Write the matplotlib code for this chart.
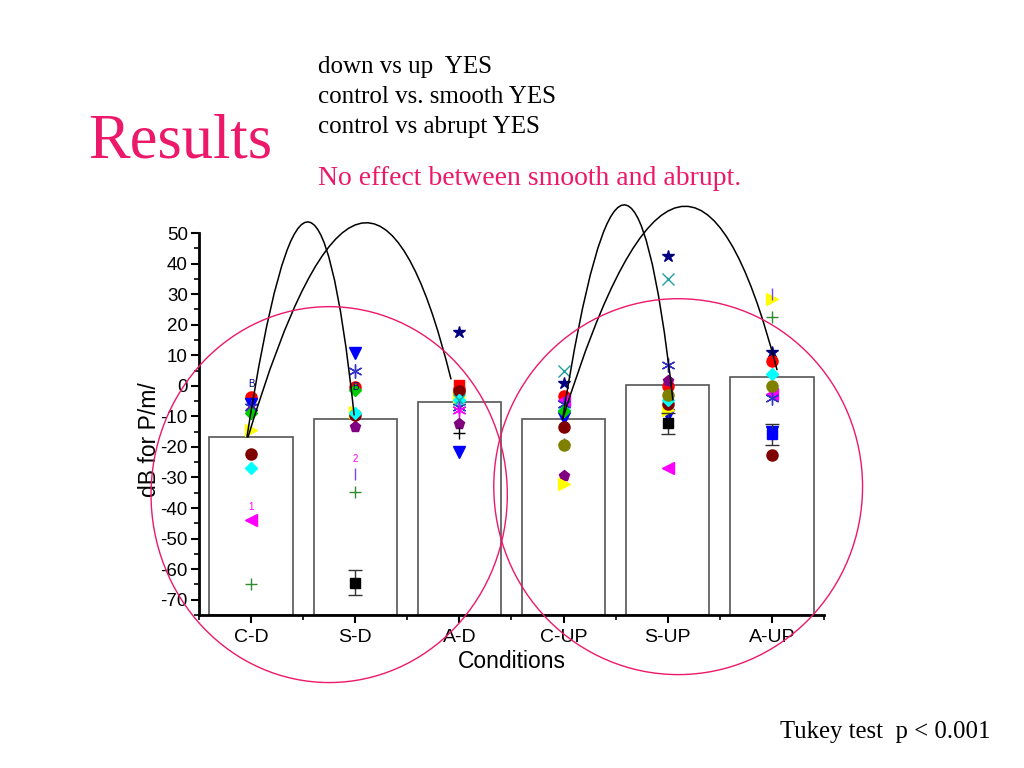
import numpy as np
import matplotlib
matplotlib.use('Agg')
import matplotlib.pyplot as plt
from matplotlib.patches import Ellipse, PathPatch
from matplotlib.path import Path

plt.rcParams['font.family'] = ['Liberation Sans', 'DejaVu Sans']
plt.rcParams['axes.unicode_minus'] = False

# conditions and bar means
conditions = ['C-D', 'S-D', 'A-D', 'C-UP', 'S-UP', 'A-UP']
bar_means = [-16.9, -11.0, -5.4, -11.0, 0.2, 2.8]

nan = np.nan
# individual points, one list per marker series (C-D, S-D, A-D, C-UP, S-UP, A-UP)
navy_star = [nan, nan, 17.5, 0.8, 42.5, 11.0]
red_circle = [-3.7, -0.4, -1.0, -3.4, 0.0, 8.0]
red_square = [nan, nan, 0.2, nan, nan, nan]
blue_tri = [-5.8, 10.6, -21.6, -10.5, -9.5, -15.0]
purple_pent = [-8.3, -13.5, -12.4, -29.4, 1.5, -0.5]
yellow_tri = [-14.5, -8.5, -3.5, -32.0, -8.0, 28.3]
darkred_circle = [-22.2, -9.5, -1.8, -13.4, -6.0, -22.5]
cyan_diamond = [-27.0, -8.8, -4.5, -8.0, -4.5, 3.8]
magenta_tri = [-44.0, nan, nan, -4.7, -26.8, -2.8]
green_plus = [-65.0, -34.6, nan, -19.0, nan, 22.5]
blue_aster = [-7.0, 5.0, -7.0, -6.0, 6.7, -4.0]
teal_x = [nan, nan, -4.5, 4.8, 35.0, nan]
magenta_aster = [nan, nan, -8.0, nan, nan, nan]
black_plus = [nan, nan, -15.4, nan, nan, nan]
olive_circle = [nan, nan, nan, -19.3, -3.0, 0.0]
green_diamond = [-9.0, -1.5, nan, -8.2, nan, nan]
violet_bar = [nan, -29.0, nan, nan, nan, 30.0]

# squares with error bars
black_sq = [nan, -64.5, nan, nan, -12.3, nan]
black_sq_err = [0, 4.1, 0, 0, 3.4, 0]
blue_sq = [nan, nan, nan, nan, nan, -15.9]
blue_sq_err = [0, 0, 0, 0, 0, 3.5]

# text markers
text_labels = ['1', '2', 'B', 'B']
text_cond = [1, 2, 1, 2]
text_vals = [-39.8, -24.0, 0.5, -0.3]
text_colors = ['#ff00ff', '#ff00ff', '#000080', '#000080']

# significance arcs: start, end, peak
arc_x0 = [0.96, 0.97, 3.99, 3.99]
arc_y0 = [-16.9, -16.9, -11.0, -11.0]
arc_x1 = [1.99, 2.92, 5.05, 6.05]
arc_y1 = [-9.7, 2.1, -4.8, 5.1]
arc_px = [1.53, 2.03, 4.57, 5.10]
arc_py = [53.6, 53.0, 59.2, 58.5]

# big highlight circles (data units)
circ_cx = [1.75, 5.10]
circ_cy = [-35.6, -33.0]
circ_w = [3.42, 3.54]
circ_h = [123.0, 123.0]

pink = '#ec1869'
x = np.arange(1, 7)

fig = plt.figure(figsize=(10.24, 7.68), dpi=100)
ax = fig.add_axes([0.1943, 0.1992, 0.6104, 0.4974])

ax.bar(x, np.array(bar_means) + 75, bottom=-75, width=0.8, color='white',
       edgecolor='#555555', linewidth=1.2, zorder=1)

series = [
    (navy_star, '*', '#000080', 9),
    (red_square, 's', '#ff0000', 7),
    (red_circle, 'o', '#ff0000', 8),
    (blue_tri, 'v', '#0000ff', 8),
    (purple_pent, 'p', '#800080', 8),
    (yellow_tri, '>', '#ffff00', 8),
    (darkred_circle, 'o', '#800000', 8),
    (cyan_diamond, 'D', '#00ffff', 6),
    (magenta_tri, '<', '#ff00ff', 8),
    (green_plus, '+', '#2e8b2e', 8),
    (blue_aster, (6, 2, 0), '#3333cc', 10),
    (teal_x, 'x', '#20a0a0', 8),
    (magenta_aster, (6, 2, 0), '#ff00ff', 10),
    (black_plus, '+', '#000000', 8),
    (olive_circle, 'o', '#808000', 8),
    (green_diamond, 'D', '#00cc00', 6),
    (violet_bar, '|', '#8040ff', 9),
]
for vals, mk, col, ms in series:
    ax.plot(x, vals, linestyle='none', marker=mk, color=col, markersize=ms,
            markeredgewidth=1.0, zorder=3, clip_on=False)

ax.errorbar(x, black_sq, yerr=black_sq_err, fmt='s', color='black', ecolor='#333333',
            markersize=7, capsize=5, elinewidth=1, zorder=4)
ax.errorbar(x, blue_sq, yerr=blue_sq_err, fmt='s', color='#0000ff', ecolor='#333333',
            markersize=7, capsize=5, elinewidth=1, zorder=4)

for lab, c, v, col in zip(text_labels, text_cond, text_vals, text_colors):
    ax.text(c, v, lab, color=col, fontsize=7, ha='center', va='center', zorder=5)

for x0, y0, x1, y1, px, py in zip(arc_x0, arc_y0, arc_x1, arc_y1, arc_px, arc_py):
    cx = 2 * px - (x0 + x1) / 2
    cy = 2 * py - (y0 + y1) / 2
    p = Path([(x0, y0), (cx, cy), (x1, y1)], [Path.MOVETO, Path.CURVE3, Path.CURVE3])
    ax.add_patch(PathPatch(p, facecolor='none', edgecolor='black', lw=1.1,
                           clip_on=False, zorder=6))

for cx, cy, w, h in zip(circ_cx, circ_cy, circ_w, circ_h):
    ax.add_patch(Ellipse((cx, cy), w, h, facecolor='none', edgecolor=pink,
                         lw=1.0, clip_on=False, zorder=7))

ax.set_xlim(0.5, 6.5)
ax.set_ylim(-75, 50)
ax.set_xticks(x)
ax.set_xticklabels(conditions, fontsize=14)
ax.set_xticks(np.arange(0.5, 7.0, 1.0), minor=True)
ax.set_yticks(np.arange(-70, 51, 10))
ax.set_yticks(np.arange(-75, 51, 5), minor=True)
ax.tick_params(axis='both', which='major', direction='out', length=6, width=1.5)
ax.tick_params(axis='y', which='major', labelsize=13.5, pad=2)
ax.tick_params(axis='x', which='major', pad=4)
ax.tick_params(axis='both', which='minor', direction='out', length=3.5, width=1.2)
for s in ['top', 'right']:
    ax.spines[s].set_visible(False)
ax.spines['left'].set_linewidth(2)
ax.spines['bottom'].set_linewidth(2)
ax.set_xlabel('Conditions', fontsize=16.5, labelpad=3)
ax.set_ylabel('dB for P/m/', fontsize=16.5)
ax.yaxis.set_label_coords(-0.06, 0.46)

serif = ['Liberation Serif', 'DejaVu Serif']
fig.text(88 / 1024, 1 - 157 / 768, 'Results', color=pink, fontsize=45, family=serif,
         va='baseline')
notes = ['down vs up  YES', 'control vs. smooth YES', 'control vs abrupt YES']
for i, t in enumerate(notes):
    fig.text(318 / 1024, 1 - (73 + 30 * i) / 768, t, fontsize=18, family=serif, va='baseline')
fig.text(318 / 1024, 1 - 185 / 768, 'No effect between smooth and abrupt.', color=pink,
         fontsize=20, family=serif, va='baseline')
fig.text(780 / 1024, 1 - 738 / 768, 'Tukey test  p < 0.001', fontsize=17.8, family=serif,
         va='baseline')

fig.savefig('out.png', dpi=100)
